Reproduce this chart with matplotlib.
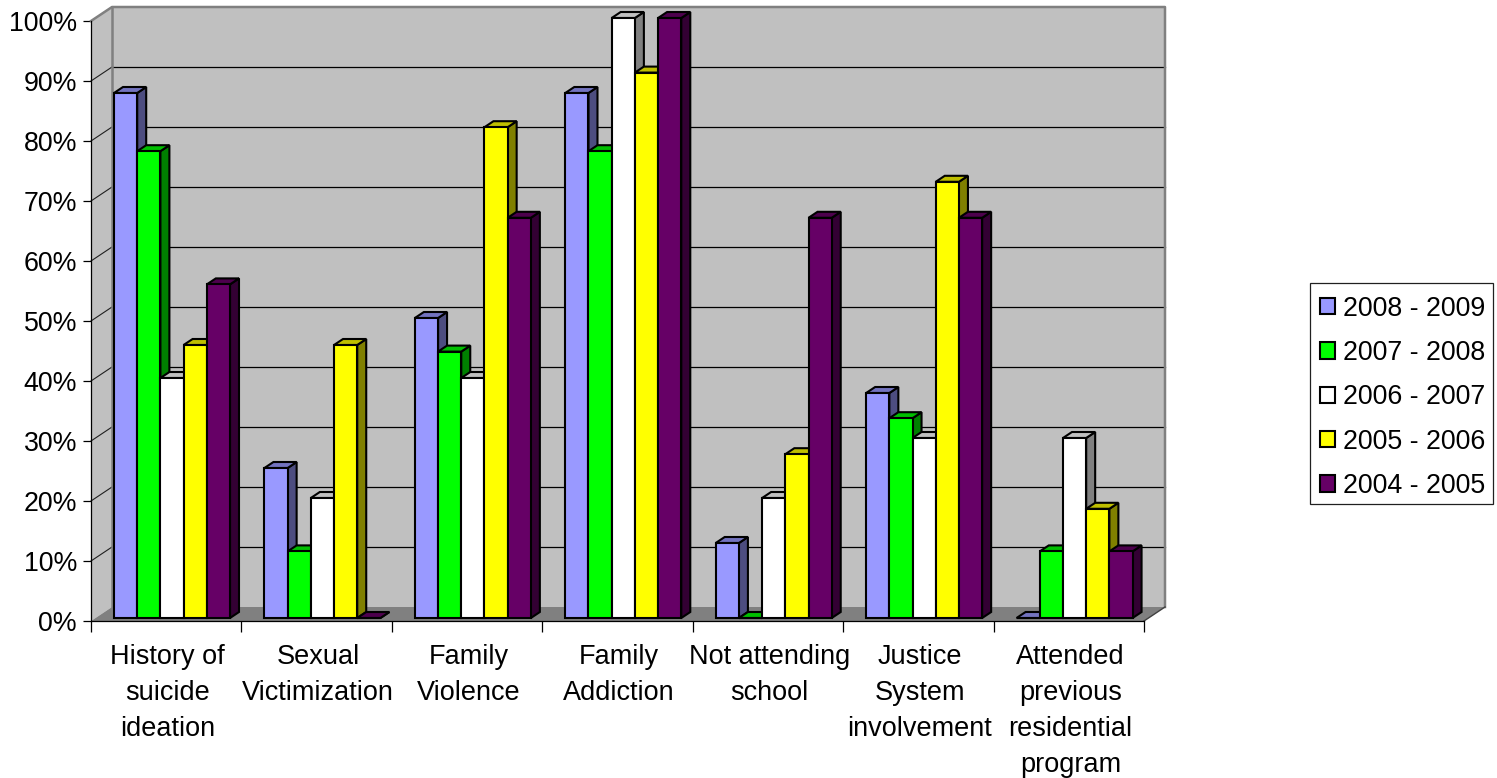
import matplotlib
matplotlib.use("Agg")
import matplotlib.pyplot as plt
from matplotlib.patches import Polygon, Patch, Rectangle
from matplotlib.colors import to_rgb

plt.rcParams['font.family'] = ['Liberation Sans', 'DejaVu Sans']

# Outcome categories and yearly percentages
categories = ["History of\nsuicide\nideation", "Sexual\nVictimization", "Family\nViolence",
              "Family\nAddiction", "Not attending\nschool", "Justice\nSystem\ninvolvement",
              "Attended\nprevious\nresidential\nprogram"]
y_2008_2009 = [87.5, 25.0, 50.0, 87.5, 12.5, 37.5, 0.0]
y_2007_2008 = [77.8, 11.1, 44.4, 77.8, 0.0, 33.3, 11.1]
y_2006_2007 = [40.0, 20.0, 40.0, 100.0, 20.0, 30.0, 30.0]
y_2005_2006 = [45.5, 45.5, 81.8, 90.9, 27.3, 72.7, 18.2]
y_2004_2005 = [55.6, 0.0, 66.7, 100.0, 66.7, 66.7, 11.1]
series_labels = ["2008 - 2009", "2007 - 2008", "2006 - 2007", "2005 - 2006", "2004 - 2005"]
series_values = [y_2008_2009, y_2007_2008, y_2006_2007, y_2005_2006, y_2004_2005]
series_colors = ["#9999FF", "#00FF00", "#FFFFFF", "#FFFF00", "#660066"]
percent_ticks = list(range(0, 101, 10))

W, H = 1497, 778
fig = plt.figure(figsize=(W / 100, H / 100), dpi=100, facecolor="white")
ax = fig.add_axes([91 / W, (H - 621) / H, (1144 - 91) / W, 600 / H])
ax.set_xlim(0, len(categories))
ax.set_ylim(0, 100)
ax.set_facecolor("none")

px_x = len(categories) / (1144 - 91)   # data units per horizontal pixel
px_y = 100 / 600                       # data units per vertical pixel
wall_dx, wall_dy = 21 * px_x, 14 * px_y
bar_dx, bar_dy = 9 * px_x, 6 * px_y
bar_base = 3 * px_y
group_start = 23 * px_x
bar_w = 23.2 * px_x
EDGE = 1.5


def shade(color, factor):
    return tuple(c * factor for c in to_rgb(color))


def poly(points, face, edge, lw, z):
    ax.add_patch(Polygon(points, closed=True, facecolor=face, edgecolor=edge,
                         linewidth=lw, zorder=z, clip_on=False, joinstyle="miter"))


n = len(categories)
GRAY = "#808080"
# Back wall, side wall and floor
poly([(wall_dx, wall_dy), (n + wall_dx, wall_dy), (n + wall_dx, 100 + wall_dy), (wall_dx, 100 + wall_dy)],
     "#C0C0C0", "none", 0, 1)
poly([(0, 0), (wall_dx, wall_dy), (wall_dx, 100 + wall_dy), (0, 100)], "#C0C0C0", "none", 0, 1)
poly([(0, 0), (n, 0), (n + wall_dx, wall_dy), (wall_dx, wall_dy)], GRAY, "none", 0, 1)

# Gridlines wrap from the side wall onto the back wall
for t in percent_ticks[1:-1]:
    ax.plot([wall_dx, n + wall_dx], [t + wall_dy, t + wall_dy], color="black", lw=0.9, zorder=2, clip_on=False)
    ax.plot([0, wall_dx], [t, t + wall_dy], color="#202020", lw=0.8, zorder=2, clip_on=False)

# Wall outlines
ax.plot([0, wall_dx, n + wall_dx, n + wall_dx], [100, 100 + wall_dy, 100 + wall_dy, wall_dy],
        color=GRAY, lw=1.8, zorder=2, clip_on=False)
ax.plot([wall_dx, wall_dx], [wall_dy, 100 + wall_dy], color=GRAY, lw=1.8, zorder=2, clip_on=False)
ax.plot([n, n + wall_dx], [0, wall_dy], color="#404040", lw=1.0, zorder=2, clip_on=False)

# Extruded bars, painted left to right so each covers its neighbour's side face
z = 3
for g in range(n):
    for s, (vals, col) in enumerate(zip(series_values, series_colors)):
        x0 = g + group_start + s * bar_w
        top = vals[g] + bar_base
        x1 = x0 + bar_w
        poly([(x1, bar_base), (x1 + bar_dx, bar_base + bar_dy), (x1 + bar_dx, top + bar_dy), (x1, top)],
             shade(col, 0.5), "black", EDGE, z)
        poly([(x0, top), (x1, top), (x1 + bar_dx, top + bar_dy), (x0 + bar_dx, top + bar_dy)],
             shade(col, 0.75), "black", EDGE, z)
        ax.bar(x0, vals[g], width=bar_w, bottom=bar_base, align="edge", color=col,
               edgecolor="black", linewidth=EDGE, zorder=z + 0.5, clip_on=False)
        z += 1

# Axes, ticks and labels
for side in ("top", "right"):
    ax.spines[side].set_visible(False)
for side in ("left", "bottom"):
    ax.spines[side].set_linewidth(0.9)
    ax.spines[side].set_zorder(z + 1)
ax.set_yticks(percent_ticks)
ax.set_yticklabels([f"{t}%" for t in percent_ticks], fontsize=19.3)
ax.tick_params(axis="y", length=5.5, width=0.9, pad=4.5)
ax.set_xticks(range(n + 1))
ax.set_xticklabels([])
ax.tick_params(axis="x", which="major", length=8, width=0.9)
ax.set_xticks([i + 0.5 + 1.5 * px_x for i in range(n)], minor=True)
ax.set_xticklabels(categories, minor=True, fontsize=19.5, linespacing=1.5)
ax.tick_params(axis="x", which="minor", length=0, pad=16.5)

# Legend: frame drawn separately so its padding can differ per side
ax.add_patch(Rectangle((1309.5 / W, (H - 504) / H), 183.5 / W, 221 / H, transform=fig.transFigure,
                       facecolor="white", edgecolor="#202020", linewidth=0.9, clip_on=False, zorder=z + 1))
handles = [Patch(facecolor=c, edgecolor="black", linewidth=1.5) for c in series_colors]
leg = ax.legend(handles, series_labels, loc="upper left",
                bbox_to_anchor=(1320 / W, (H - 295.5) / H), bbox_transform=fig.transFigure,
                fontsize=19.3, frameon=False, borderpad=0, labelspacing=0.685,
                handlelength=0.56, handleheight=0.56, handletextpad=0.3, borderaxespad=0)
leg.set_zorder(z + 2)

fig.savefig("out.png", dpi=100, facecolor="white")
